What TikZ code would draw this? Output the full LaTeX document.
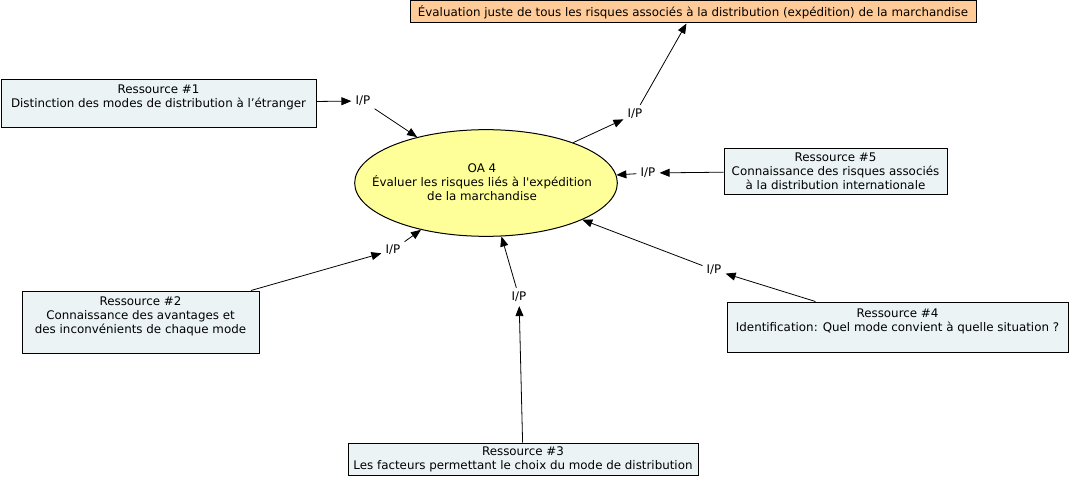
\documentclass[tikz,border=0pt]{standalone}
\usepackage{fontspec}
\setmainfont{DejaVu Sans}
\usetikzlibrary{shapes.geometric,arrows.meta}
\definecolor{resfill}{RGB}{235,243,245}
\definecolor{goalfill}{RGB}{255,204,153}
\definecolor{oafill}{RGB}{255,255,153}
\begin{document}
\begin{tikzpicture}[x=0.75pt, y=-0.75pt,
  res/.style={shape=rectangle, draw=black, line width=0.75pt, fill=resfill, align=center, inner sep=0pt, font=\fontsize{8.9}{10.5}\selectfont},
  ip/.style={inner sep=3pt, font=\fontsize{8.9}{10.5}\selectfont},
  link/.style={-{Triangle[length=7.5pt,width=6pt]}, line width=0.6pt, draw=black}]
\useasboundingbox (0,0) rectangle (1073,478);
\node[shape=ellipse, draw=black, line width=0.75pt, fill=oafill, minimum width=197pt, minimum height=80pt, inner sep=0pt] (oa) at (486,183) {};
\node[align=center, inner sep=0pt, font=\fontsize{8.9}{10.5}\selectfont] (oatext) at (482,182) {OA 4\\Évaluer les risques liés à l\textquotesingle expédition\\de la marchandise};
\node[res, fill=goalfill, minimum width=424.5pt, minimum height=16.5pt] (goal) at (693,12) {Évaluation juste de tous les risques associés à la distribution (expédition) de la marchandise};
\node[res, minimum width=236.25pt, minimum height=36pt] (r1) at (158.5,103) {Ressource \#1\\Distinction des modes de distribution à l’étranger\\ ~};
\node[res, minimum width=177.75pt, minimum height=46.5pt] (r2) at (140.5,322) {Ressource \#2\\Connaissance des avantages et\\des inconvénients de chaque mode\\ ~};
\node[res, minimum width=262.5pt, minimum height=24pt] (r3) at (523,459) {Ressource \#3\\Les facteurs permettant le choix du mode de distribution};
\node[res, minimum width=255.75pt, minimum height=37.5pt] (r4) at (897.5,327) {Ressource \#4\\Identification: Quel mode convient à quelle situation ?\\ ~};
\node[res, minimum width=167.25pt, minimum height=34.5pt] (r5) at (835.5,171) {Ressource \#5\\Connaissance des risques associés\\à la distribution internationale};
\node[ip] (ip1) at (363,101) {I/P};
\node[ip] (ip2) at (393,250) {I/P};
\node[ip] (ip3) at (519,297) {I/P};
\node[ip] (ip4) at (714,270) {I/P};
\node[ip] (ip5) at (648,173) {I/P};
\node[ip] (ipg) at (635,114) {I/P};
\path [link] (r1) edge (ip1);
\path [link] (ip1) edge (oa);
\path [link] (r2) edge (ip2);
\path [link] (ip2) edge (oa);
\path [link] (r3) edge (ip3);
\path [link] (ip3) edge (oa);
\path [link] (r4) edge (ip4);
\path [link] (ip4) edge (oa);
\path [link] (r5) edge (ip5);
\path [link] (ip5) edge (oa);
\path [link] (oa) edge (ipg);
\path [link] (ipg) edge (goal);
\end{tikzpicture}
\end{document}
